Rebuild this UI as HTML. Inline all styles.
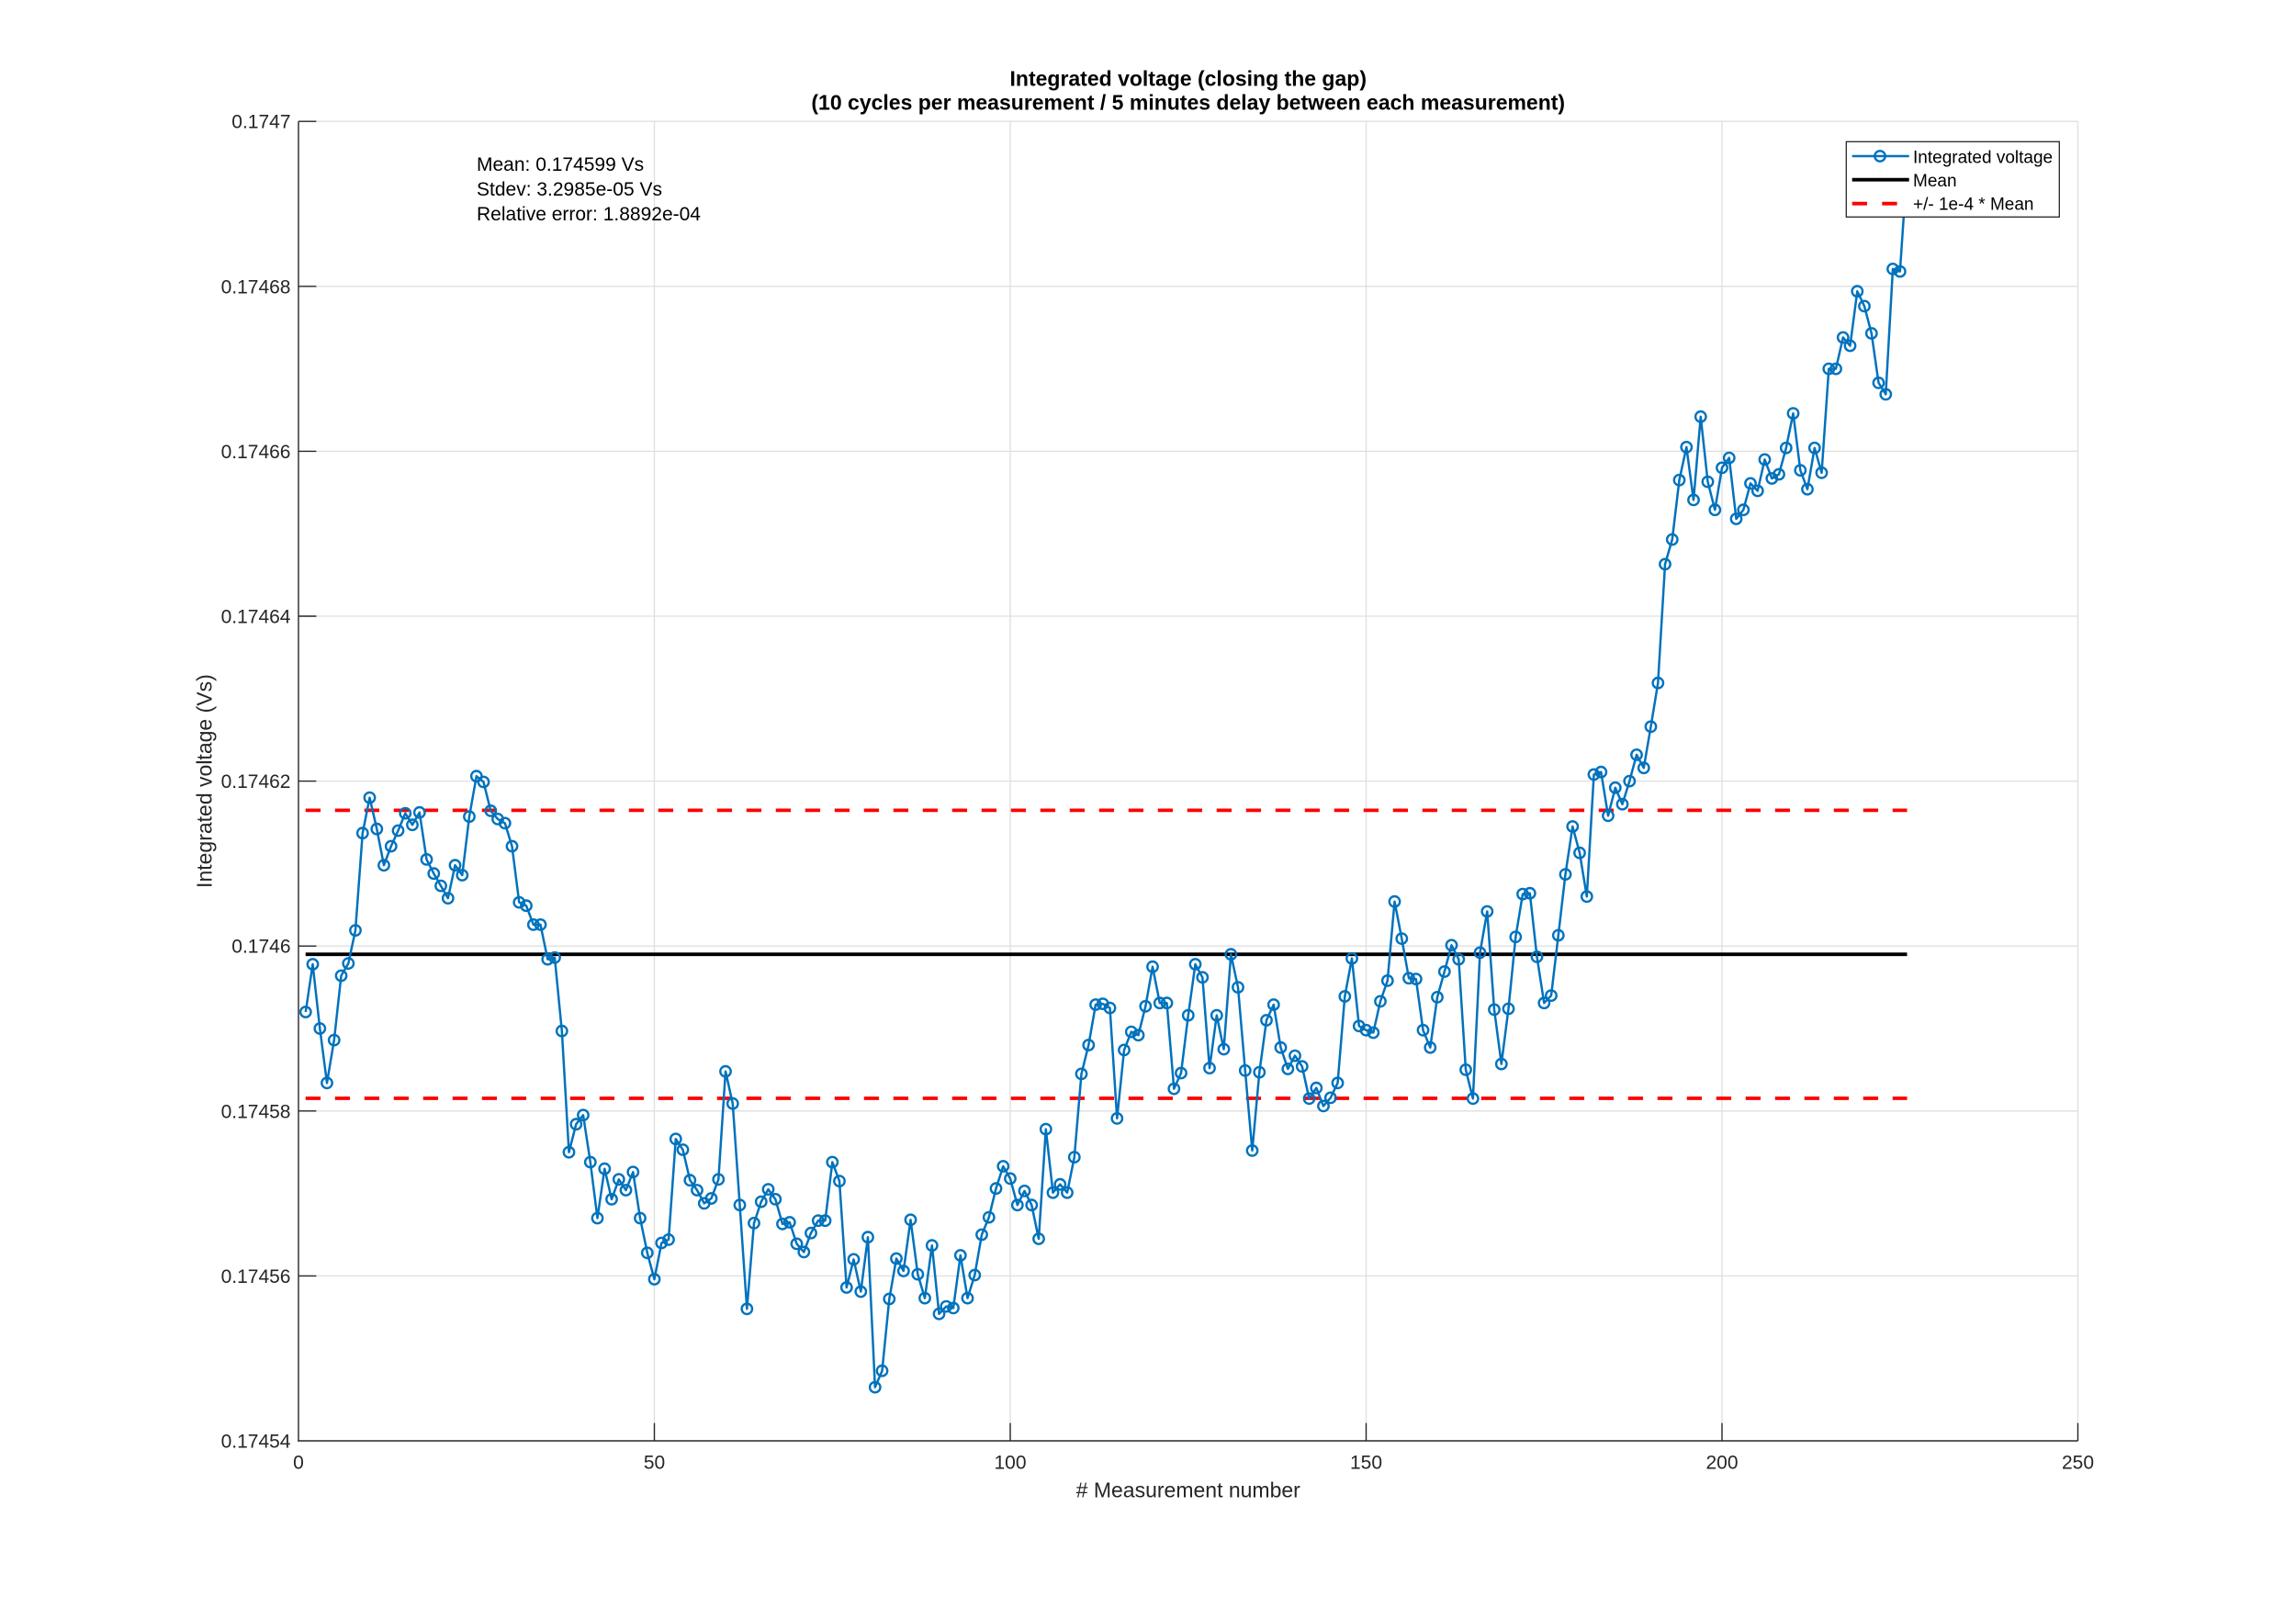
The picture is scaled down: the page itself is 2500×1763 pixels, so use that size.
<!DOCTYPE html>
<html>
<head>
<meta charset="utf-8">
<style>
html,body{margin:0;padding:0;background:#fff;}
svg{display:block;}
text{font-family:"Liberation Sans",Arial,sans-serif;}
</style>
</head>
<body>
<svg width="2500" height="1763" viewBox="0 0 2500 1763" xmlns="http://www.w3.org/2000/svg">
<defs>
<marker id="m" markerUnits="userSpaceOnUse" markerWidth="20" markerHeight="20" refX="10" refY="10" viewBox="0 0 20 20">
<circle cx="10" cy="10" r="5.7" fill="none" stroke="#0072BD" stroke-width="2.4"/>
</marker>
</defs>
<rect x="0" y="0" width="2500" height="1763" fill="#fff"/>
<!-- grid -->
<g stroke="#dfdfdf" stroke-width="1.3" fill="none">
<line x1="325" y1="132.2" x2="2262.5" y2="132.2"/>
<line x1="325" y1="311.8" x2="2262.5" y2="311.8"/>
<line x1="325" y1="491.4" x2="2262.5" y2="491.4"/>
<line x1="325" y1="671.0" x2="2262.5" y2="671.0"/>
<line x1="325" y1="850.6" x2="2262.5" y2="850.6"/>
<line x1="325" y1="1030.2" x2="2262.5" y2="1030.2"/>
<line x1="325" y1="1209.8" x2="2262.5" y2="1209.8"/>
<line x1="325" y1="1389.4" x2="2262.5" y2="1389.4"/>
<line x1="712.5" y1="132.2" x2="712.5" y2="1569"/>
<line x1="1100" y1="132.2" x2="1100" y2="1569"/>
<line x1="1487.5" y1="132.2" x2="1487.5" y2="1569"/>
<line x1="1875" y1="132.2" x2="1875" y2="1569"/>
<line x1="2262.5" y1="132.2" x2="2262.5" y2="1569"/>
</g>
<!-- axes -->
<g stroke="#262626" stroke-width="1.4" fill="none">
<line x1="325" y1="132.2" x2="325" y2="1569.7"/>
<line x1="324.3" y1="1569" x2="2262.5" y2="1569"/>
<line x1="325" y1="132.2" x2="344.4" y2="132.2"/>
<line x1="325" y1="311.8" x2="344.4" y2="311.8"/>
<line x1="325" y1="491.4" x2="344.4" y2="491.4"/>
<line x1="325" y1="671.0" x2="344.4" y2="671.0"/>
<line x1="325" y1="850.6" x2="344.4" y2="850.6"/>
<line x1="325" y1="1030.2" x2="344.4" y2="1030.2"/>
<line x1="325" y1="1209.8" x2="344.4" y2="1209.8"/>
<line x1="325" y1="1389.4" x2="344.4" y2="1389.4"/>
<line x1="712.5" y1="1569" x2="712.5" y2="1549.6"/>
<line x1="1100" y1="1569" x2="1100" y2="1549.6"/>
<line x1="1487.5" y1="1569" x2="1487.5" y2="1549.6"/>
<line x1="1875" y1="1569" x2="1875" y2="1549.6"/>
<line x1="2262.5" y1="1569" x2="2262.5" y2="1549.6"/>
</g>
<!-- y tick labels -->
<g font-size="21" fill="#262626" text-anchor="end">
<text x="316.5" y="139.7">0.1747</text>
<text x="316.5" y="319.3">0.17468</text>
<text x="316.5" y="498.9">0.17466</text>
<text x="316.5" y="678.5">0.17464</text>
<text x="316.5" y="858.1">0.17462</text>
<text x="316.5" y="1037.7">0.1746</text>
<text x="316.5" y="1217.3">0.17458</text>
<text x="316.5" y="1396.9">0.17456</text>
<text x="316.5" y="1576.5">0.17454</text>
</g>
<!-- x tick labels -->
<g font-size="21" fill="#262626" text-anchor="middle">
<text x="325" y="1599.5">0</text>
<text x="712.5" y="1599.5">50</text>
<text x="1100" y="1599.5">100</text>
<text x="1487.5" y="1599.5">150</text>
<text x="1875" y="1599.5">200</text>
<text x="2262.5" y="1599.5">250</text>
</g>
<!-- axis labels -->
<text x="1293.75" y="1630.7" font-size="23" fill="#262626" text-anchor="middle"># Measurement number</text>
<text transform="translate(230.5,850.6) rotate(-90)" x="0" y="0" font-size="23" fill="#262626" text-anchor="middle">Integrated voltage (Vs)</text>
<!-- title -->
<g font-size="23" font-weight="bold" fill="#000" text-anchor="middle">
<text x="1293.75" y="93.5">Integrated voltage (closing the gap)</text>
<text x="1293.75" y="119.5">(10 cycles per measurement / 5 minutes delay between each measurement)</text>
</g>
<!-- annotation -->
<g font-size="21" fill="#000">
<text x="519" y="186">Mean: 0.174599 Vs</text>
<text x="519" y="213">Stdev: 3.2985e-05 Vs</text>
<text x="519" y="240">Relative error: 1.8892e-04</text>
</g>
<!-- mean and bounds -->
<line x1="332.75" y1="1039.2" x2="2076.5" y2="1039.2" stroke="#000" stroke-width="3.8"/>
<line x1="332.75" y1="882.4" x2="2076.5" y2="882.4" stroke="#ff0000" stroke-width="3.8" stroke-dasharray="16.3 15.7"/>
<line x1="332.75" y1="1196.0" x2="2076.5" y2="1196.0" stroke="#ff0000" stroke-width="3.8" stroke-dasharray="16.3 15.7"/>
<!-- data -->
<polyline fill="none" stroke="#0072BD" stroke-width="2.5" stroke-linejoin="round" marker-start="url(#m)" marker-mid="url(#m)" marker-end="url(#m)" points="332.8,1102.0 340.5,1050.0 348.3,1120.0 356,1179.3 363.8,1132.6 371.5,1062.5 379.3,1049.1 387,1013.1 394.8,907.2 402.5,868.6 410.3,902.7 418,942.2 425.8,921.5 433.5,904.5 441.3,885.6 449,898.2 456.8,884.7 464.5,935.9 472.3,951.2 480,964.6 487.8,978.1 495.5,942.2 503.3,953.0 511,889.2 518.8,845.2 526.5,851.5 534.3,882.9 542,891.9 549.8,896.4 557.5,921.5 565.3,982.6 573,986.2 580.8,1006.9 588.5,1006.9 596.3,1044.6 604,1042.8 611.8,1122.7 619.5,1254.7 627.3,1224.2 635,1214.3 642.8,1265.5 650.5,1326.5 658.3,1272.7 666,1305.9 673.8,1284.3 681.5,1296.0 689.3,1276.3 697,1326.5 704.8,1364.3 712.5,1393.0 720.3,1353.5 728,1349.9 735.8,1240.3 743.5,1252.0 751.3,1285.2 759,1296.0 766.8,1310.4 774.5,1305.0 782.3,1284.3 790,1166.7 797.8,1201.7 805.5,1312.2 813.3,1425.3 821,1331.9 828.8,1308.6 836.5,1295.1 844.3,1305.9 852,1332.8 859.8,1331.0 867.5,1354.4 875.3,1363.4 883,1342.7 890.8,1329.2 898.5,1329.2 906.3,1265.5 914,1286.1 921.8,1402.0 929.5,1371.4 937.3,1406.5 945,1347.2 952.8,1510.6 960.5,1492.7 968.3,1414.5 976,1370.5 983.8,1384.0 991.5,1328.3 999.3,1387.6 1007,1413.6 1014.8,1356.2 1022.5,1430.7 1030.3,1422.6 1038,1424.4 1045.8,1367.0 1053.5,1413.6 1061.3,1388.5 1069,1344.5 1076.8,1325.6 1084.5,1294.2 1092.3,1270.0 1100,1283.4 1107.8,1312.2 1115.5,1296.9 1123.3,1312.2 1131,1349.0 1138.8,1229.6 1146.5,1298.7 1154.3,1289.7 1162,1298.7 1169.8,1260.1 1177.5,1169.4 1185.3,1138.0 1193,1094.0 1200.8,1093.1 1208.5,1097.6 1216.3,1217.9 1224,1143.4 1231.8,1123.6 1239.5,1127.2 1247.3,1095.8 1255,1052.7 1262.8,1092.2 1270.5,1092.2 1278.3,1185.6 1286,1168.5 1293.8,1105.6 1301.5,1050.0 1309.3,1064.3 1317,1163.1 1324.8,1105.6 1332.5,1142.5 1340.3,1039.2 1348,1075.1 1355.8,1165.8 1363.5,1252.9 1371.3,1167.6 1379,1111.0 1386.8,1094.0 1394.5,1140.7 1402.3,1164.0 1410,1149.6 1417.8,1161.3 1425.5,1196.3 1433.3,1184.7 1441,1204.4 1448.8,1195.4 1456.5,1179.3 1464.3,1085.0 1472,1043.7 1479.8,1117.3 1487.5,1121.8 1495.3,1124.5 1503,1090.4 1510.8,1067.9 1518.5,981.7 1526.3,1022.1 1534,1065.2 1541.8,1066.1 1549.5,1121.8 1557.3,1140.7 1565,1085.9 1572.8,1058.0 1580.5,1029.3 1588.3,1044.6 1596,1164.9 1603.8,1196.3 1611.5,1037.4 1619.3,992.5 1627,1099.4 1634.8,1158.6 1642.5,1098.5 1650.3,1020.3 1658,973.6 1665.8,972.7 1673.5,1041.9 1681.3,1092.2 1689,1084.1 1696.8,1018.5 1704.5,952.1 1712.3,900.0 1720,928.7 1727.8,976.3 1735.5,843.4 1743.3,840.7 1751,888.3 1758.8,857.8 1766.5,875.7 1774.3,850.6 1782,821.9 1789.8,836.2 1797.5,791.3 1805.3,743.7 1813,614.4 1820.8,587.5 1828.5,522.8 1836.3,486.9 1844,544.4 1851.8,453.7 1859.5,524.6 1867.3,555.2 1875,509.4 1882.8,498.6 1890.5,565.0 1898.3,555.2 1906,526.4 1913.8,534.5 1921.5,500.4 1929.3,521.0 1937,516.5 1944.8,487.8 1952.5,450.1 1960.3,512.1 1968,532.7 1975.8,487.8 1983.5,514.8 1991.3,401.6 1999,401.6 2006.8,367.5 2014.5,376.5 2022.3,317.2 2030,333.4 2037.8,363.0 2045.5,416.9 2053.3,429.4 2061,292.9 2068.8,295.6 2076.5,181.6"/>
<!-- legend -->
<rect x="2010.3" y="154.3" width="232" height="82" fill="#fff" stroke="#262626" stroke-width="1.3"/>
<line x1="2016.7" y1="170" x2="2078.7" y2="170" stroke="#0072BD" stroke-width="2.5"/>
<circle cx="2047" cy="170" r="5.7" fill="none" stroke="#0072BD" stroke-width="2.4"/>
<line x1="2016.7" y1="195.7" x2="2078.7" y2="195.7" stroke="#000" stroke-width="3.8"/>
<line x1="2016.7" y1="221.7" x2="2078.7" y2="221.7" stroke="#ff0000" stroke-width="3.8" stroke-dasharray="16.3 16.3"/>
<g font-size="19" fill="#000">
<text x="2083" y="177.3">Integrated voltage</text>
<text x="2083" y="202.8">Mean</text>
<text x="2083" y="228.5">+/- 1e-4 * Mean</text>
</g>
</svg>
</body>
</html>
